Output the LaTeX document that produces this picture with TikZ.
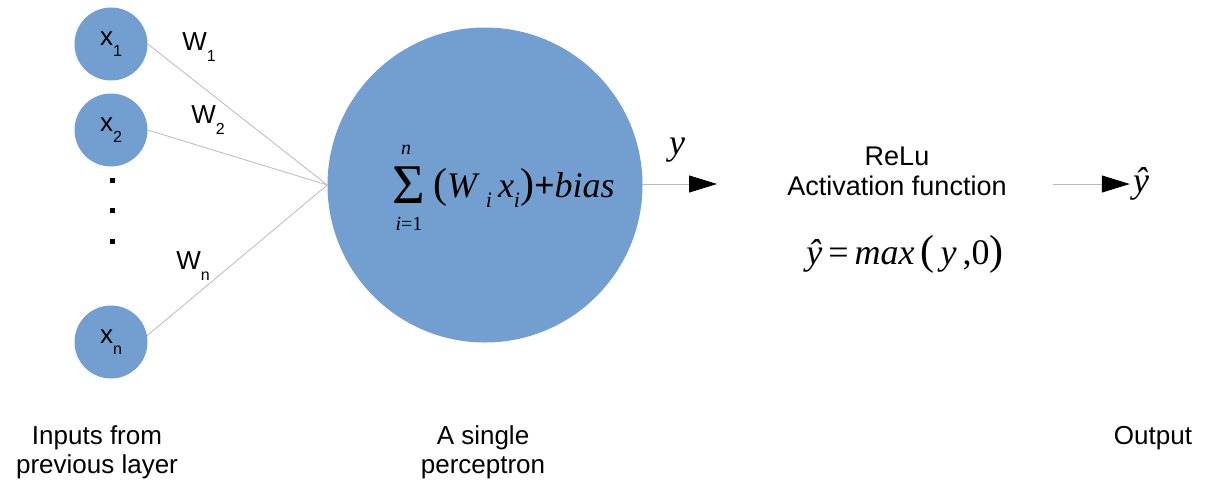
\documentclass[tikz,border=0pt]{standalone}
\usepackage{fontspec}
\setmainfont{Liberation Sans}
\newfontfamily\serifface{Liberation Serif}
\usetikzlibrary{arrows.meta}
\definecolor{nodeblue}{RGB}{114,159,207}
\definecolor{linegray}{RGB}{185,185,185}
\newcommand{\setfs}[1]{\fontsize{#1}{#1}\selectfont}
\newcommand{\sublab}[3]{{\setfs{#3}#1\raisebox{-0.4em}{\setfs{16}#2}}}
\newcommand{\isub}{\raisebox{-0.3em}{\setfs{22}\textit{i}}}
\newcommand{\tallpar}[1]{{\setfs{42}#1}}
\begin{document}
\begin{tikzpicture}[x=1pt,y=-1pt,
  innode/.style={circle, fill=nodeblue, minimum size=73pt, inner sep=0pt},
  bignode/.style={circle, fill=nodeblue, minimum size=315pt, inner sep=0pt},
  wire/.style={draw=linegray, line width=0.8pt},
  arr/.style={wire, -{Triangle[length=28pt,width=17pt,color=black]}},
  lbl/.style={font=\setfs{27}, align=center, inner sep=0pt},
  dotmark/.style={fill=black, minimum size=5pt, inner sep=0pt},
  mathlbl/.style={font=\serifface\setfs{36}, inner sep=0pt},
  small/.style={font=\serifface\itshape\setfs{20}, inner sep=0pt}
]
\useasboundingbox (0,0) rectangle (1207,485);

% input nodes
\node[innode] (x1) at (111,44) {\sublab{x}{1}{26}};
\node[innode] (x2) at (111,130) {\sublab{x}{2}{26}};
\node[innode] (xn) at (111,342) {\sublab{x}{n}{26}};
\node[dotmark] (d1) at (112,180) {};
\node[dotmark] (d2) at (112,210) {};
\node[dotmark] (d3) at (112,241) {};

% perceptron
\node[bignode] (p) at (485,185) {};

% weights
\draw[wire] (x1.east) -- (p.west);
\draw[wire] (x2.east) -- (p.west);
\draw[wire] (xn.10) -- (p.west);
\node[inner sep=0pt] (w1) at (199,47) {\sublab{W}{1}{26}};
\node[inner sep=0pt] (w2) at (208,120) {\sublab{W}{2}{26}};
\node[inner sep=0pt] (wn) at (193,266) {\sublab{W}{n}{26}};

% formula inside perceptron
\node[mathlbl, font=\serifface\setfs{56}, text height=38pt, text depth=0pt] (sig) at (409,184) {Σ};
\node[small] (sup) at (406,150) {n};
\node[small] (sub) at (409,224) {i\upshape{}=1};
\node[mathlbl, anchor=base west] (body) at (433,197)
  {\tallpar{(}\textit{W}\,\isub\,\textit{x}\isub\tallpar{)}\textbf{+}\textit{bias}};

% output of perceptron
\coordinate (a1) at (717,184);
\draw[arr] (p.east |- a1) -- (a1);
\node[mathlbl, font=\serifface\itshape\setfs{36}] (ylab) at (677,150) {y};

% activation
\node[lbl, font=\setfs{27}\linespread{1.1}\selectfont] (act) at (897,171) {ReLu\\Activation function};
\node[mathlbl, anchor=base] (relu) at (905,264)
  {\textit{ŷ}\,=\,\textit{max}\,\tallpar{(}\,\textit{y}\,,0\tallpar{)}};

\coordinate (a2) at (1053,184);
\node[mathlbl, font=\serifface\itshape\setfs{36}] (yhat) at (1141,184) {ŷ};
\draw[arr, shorten >=3pt] (a2) -- (yhat.west);

% captions
\node[lbl, font=\setfs{26}\linespread{1.1}\selectfont] (cin) at (97,452) {Inputs from\\previous layer};
\node[lbl, font=\setfs{26}\linespread{1.1}\selectfont] (cp) at (483,452) {A single\\perceptron};
\node[lbl, font=\setfs{26}] (cout) at (1153,438) {Output};
\end{tikzpicture}
\end{document}
